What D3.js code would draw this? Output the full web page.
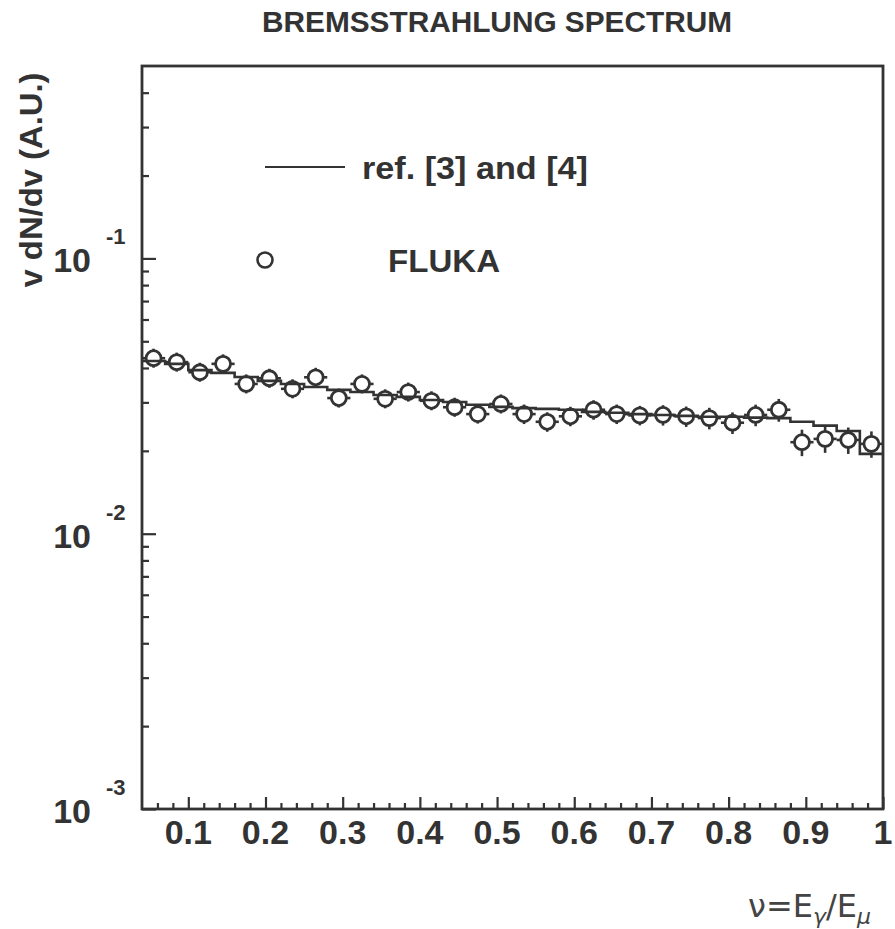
<!DOCTYPE html>
<html>
<head>
<meta charset="utf-8">
<script src="https://cdn.jsdelivr.net/npm/d3@7"></script>
<style>
  body { margin: 0; background: #fff; }
  svg text { font-family: 'Liberation Sans', Arial, sans-serif; font-weight: bold; fill: #333; }
  .axis path { display: none; }
  .axis line { stroke: #333; stroke-width: 2.2; }
</style>
</head>
<body>
<svg id="chart" width="895" height="929"></svg>
<script>
// bin centres (nu = E_gamma / E_mu), bins are 0.03 wide
const nuCenters = [0.055, 0.085, 0.115, 0.145, 0.175, 0.205, 0.235, 0.265,
  0.295, 0.325, 0.355, 0.385, 0.415, 0.445, 0.475, 0.505,
  0.535, 0.565, 0.595, 0.625, 0.655, 0.685, 0.715, 0.745,
  0.775, 0.805, 0.835, 0.865, 0.895, 0.925, 0.955, 0.985];
const binWidth = 0.03;

// ref. [3] and [4] (histogram)
const refValues = [0.0424, 0.0414, 0.0393, 0.0384, 0.0371, 0.0359, 0.0350, 0.0341,
  0.0333, 0.0327, 0.0319, 0.0314, 0.0306, 0.0301, 0.0294, 0.0289,
  0.0286, 0.0284, 0.0282, 0.0277, 0.0275, 0.0272, 0.0270, 0.0268,
  0.0266, 0.0266, 0.0264, 0.0263, 0.0255, 0.0247, 0.0236, 0.0195];

// FLUKA points and relative errors
const flukaValues = [0.0434, 0.0420, 0.0386, 0.0414, 0.0350, 0.0367, 0.0336, 0.0370,
  0.0311, 0.0350, 0.0309, 0.0327, 0.0304, 0.0288, 0.0272, 0.0296,
  0.0272, 0.0255, 0.0267, 0.0282, 0.0272, 0.0269, 0.0270, 0.0267,
  0.0263, 0.0253, 0.0270, 0.0282, 0.0215, 0.0221, 0.0219, 0.0212];
const flukaErr = [0.06, 0.06, 0.06, 0.06, 0.065, 0.065, 0.065, 0.065,
  0.07, 0.07, 0.07, 0.07, 0.07, 0.07, 0.075, 0.075,
  0.08, 0.08, 0.08, 0.08, 0.08, 0.08, 0.085, 0.085,
  0.09, 0.09, 0.09, 0.095, 0.11, 0.11, 0.11, 0.11];

const xMajor = [0.1, 0.2, 0.3, 0.4, 0.5, 0.6, 0.7, 0.8, 0.9, 1];
const xLabels = ['0.1', '0.2', '0.3', '0.4', '0.5', '0.6', '0.7', '0.8', '0.9', '1'];
const xMinor = [0.06, 0.08, 0.12, 0.14, 0.16, 0.18, 0.22, 0.24, 0.26, 0.28,
  0.32, 0.34, 0.36, 0.38, 0.42, 0.44, 0.46, 0.48, 0.52, 0.54, 0.56, 0.58,
  0.62, 0.64, 0.66, 0.68, 0.72, 0.74, 0.76, 0.78, 0.82, 0.84, 0.86, 0.88,
  0.92, 0.94, 0.96, 0.98];
const yMajor = [0.001, 0.01, 0.1];
const yExponents = ['-3', '-2', '-1'];
const yMinor = [0.002, 0.003, 0.004, 0.005, 0.006, 0.007, 0.008, 0.009,
  0.02, 0.03, 0.04, 0.05, 0.06, 0.07, 0.08, 0.09, 0.2, 0.3, 0.4];

const frame = { left: 142, top: 66, right: 883, bottom: 809 };
const ink = '#333';

const svg = d3.select('#chart');

const x = d3.scaleLinear().domain([0.04, 1.0]).range([frame.left, frame.right]);
const y = d3.scaleLog().domain([0.001, 0.5]).range([frame.bottom, frame.top]);

// title
svg.append('text')
  .attr('x', 497).attr('y', 32)
  .attr('text-anchor', 'middle')
  .attr('font-size', 29)
  .attr('textLength', 470)
  .attr('lengthAdjust', 'spacingAndGlyphs')
  .text('BREMSSTRAHLUNG SPECTRUM');

// y axis ticks (inward)
svg.append('g').attr('class', 'axis')
  .attr('transform', `translate(${frame.left},0)`)
  .call(d3.axisRight(y).tickValues(yMajor).tickSize(14).tickFormat(''));
svg.append('g').attr('class', 'axis')
  .attr('transform', `translate(${frame.left},0)`)
  .call(d3.axisRight(y).tickValues(yMinor).tickSize(7).tickFormat(''));

// x axis ticks (inward)
svg.append('g').attr('class', 'axis')
  .attr('transform', `translate(0,${frame.bottom})`)
  .call(d3.axisTop(x).tickValues(xMajor).tickSize(12).tickFormat(''));
svg.append('g').attr('class', 'axis')
  .attr('transform', `translate(0,${frame.bottom})`)
  .call(d3.axisTop(x).tickValues(xMinor).tickSize(6).tickFormat(''));

// x tick labels
svg.selectAll('.xlab')
  .data(xMajor)
  .join('text')
  .attr('class', 'xlab')
  .attr('x', d => x(d))
  .attr('y', 844)
  .attr('text-anchor', 'middle')
  .attr('font-size', 34)
  .text((d, i) => xLabels[i]);

// y tick labels: 10 with exponent
const ylab = svg.selectAll('.ylab')
  .data(yMajor)
  .join('g')
  .attr('class', 'ylab');
ylab.append('text')
  .attr('x', 91)
  .attr('y', d => y(d) + 14)
  .attr('text-anchor', 'end')
  .attr('font-size', 34)
  .text('10');
ylab.append('text')
  .attr('x', 106)
  .attr('y', d => y(d) - 14)
  .attr('font-size', 22)
  .text((d, i) => yExponents[i]);

// y axis title
svg.append('text')
  .attr('transform', 'translate(42,180) rotate(-90)')
  .attr('text-anchor', 'middle')
  .attr('font-size', 32)
  .attr('textLength', 215)
  .attr('lengthAdjust', 'spacingAndGlyphs')
  .text('v dN/dv (A.U.)');

// x axis title
const xt = svg.append('text')
  .attr('x', 748).attr('y', 917)
  .attr('font-size', 32)
  .style('font-family', "'DejaVu Sans', sans-serif")
  .style('font-weight', 'normal')
  .style('fill', '#444');
xt.append('tspan').text('ν=E');
xt.append('tspan').attr('font-size', 22).attr('dy', 7).style('font-style', 'italic').text('γ');
xt.append('tspan').attr('dy', -7).text('/E');
xt.append('tspan').attr('font-size', 22).attr('dy', 7).style('font-style', 'italic').text('μ');

// reference histogram
const stepData = nuCenters.map((c, i) => [c - binWidth / 2, refValues[i]]);
stepData.push([nuCenters[nuCenters.length - 1] + binWidth / 2, refValues[refValues.length - 1]]);
const stepLine = d3.line()
  .x(d => x(d[0]))
  .y(d => y(d[1]))
  .curve(d3.curveStepAfter);
svg.append('path')
  .datum(stepData)
  .attr('fill', 'none')
  .attr('stroke', ink)
  .attr('stroke-width', 2.6)
  .attr('d', stepLine);

// FLUKA points with error bars stopping at the marker edge
const r = 7.5;
const pts = svg.append('g');
const pt = pts.selectAll('.pt')
  .data(nuCenters.map((c, i) => ({ c, v: flukaValues[i], e: flukaErr[i] })))
  .join('g')
  .attr('class', 'pt');

pt.append('line')
  .attr('x1', d => x(d.c)).attr('x2', d => x(d.c))
  .attr('y1', d => y(d.v) - r)
  .attr('y2', d => Math.min(y(d.v * (1 + d.e)), y(d.v) - r - 2))
  .attr('stroke', ink).attr('stroke-width', 2.6);
pt.append('line')
  .attr('x1', d => x(d.c)).attr('x2', d => x(d.c))
  .attr('y1', d => y(d.v) + r)
  .attr('y2', d => Math.max(y(d.v * (1 - d.e)), y(d.v) + r + 2))
  .attr('stroke', ink).attr('stroke-width', 2.6);
pt.append('line')
  .attr('x1', d => x(d.c - binWidth / 2)).attr('x2', d => x(d.c) - r)
  .attr('y1', d => y(d.v)).attr('y2', d => y(d.v))
  .attr('stroke', ink).attr('stroke-width', 2.6);
pt.append('line')
  .attr('x1', d => x(d.c) + r).attr('x2', d => x(d.c + binWidth / 2))
  .attr('y1', d => y(d.v)).attr('y2', d => y(d.v))
  .attr('stroke', ink).attr('stroke-width', 2.6);
pt.append('circle')
  .attr('cx', d => x(d.c))
  .attr('cy', d => y(d.v))
  .attr('r', r)
  .attr('fill', 'none')
  .attr('stroke', ink)
  .attr('stroke-width', 2.8);

// frame
svg.append('rect')
  .attr('x', frame.left).attr('y', frame.top)
  .attr('width', frame.right - frame.left)
  .attr('height', frame.bottom - frame.top)
  .attr('fill', 'none')
  .attr('stroke', ink)
  .attr('stroke-width', 2.8);

// legend
svg.append('line')
  .attr('x1', 265).attr('x2', 345)
  .attr('y1', 167).attr('y2', 167)
  .attr('stroke', ink).attr('stroke-width', 2.2);
svg.append('text')
  .attr('x', 362).attr('y', 179)
  .attr('font-size', 32)
  .attr('textLength', 226)
  .attr('lengthAdjust', 'spacingAndGlyphs')
  .text('ref. [3] and [4]');
svg.append('circle')
  .attr('cx', 265).attr('cy', 260).attr('r', 7.5)
  .attr('fill', 'none').attr('stroke', ink).attr('stroke-width', 2.6);
svg.append('text')
  .attr('x', 388).attr('y', 272)
  .attr('font-size', 32)
  .attr('textLength', 112)
  .attr('lengthAdjust', 'spacingAndGlyphs')
  .text('FLUKA');
</script>
</body>
</html>
